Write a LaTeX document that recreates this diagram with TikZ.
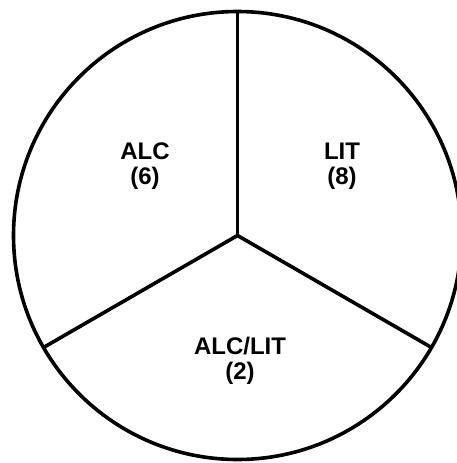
\documentclass[tikz,border=0pt]{standalone}
\usepackage{fontspec}
\setmainfont{Liberation Sans}
\usetikzlibrary{calc}
\begin{document}
\begin{tikzpicture}[x=1pt,y=-1pt,
  pieline/.style={line width=3.6pt,line cap=butt},
  lbl/.style={font=\bfseries\fontsize{24}{25.5}\selectfont,align=center,inner sep=0pt}]
\useasboundingbox (0,0) rectangle (457,463);
\clip (0,0) rectangle (457,463);
\coordinate (c) at (237.5,235.5);
\draw[pieline] (c) circle[radius=224];
\coordinate (top) at ($(c)+(0,-224)$);
\coordinate (ll) at ($(c)+(-194,112)$);
\coordinate (lr) at ($(c)+(194,112)$);
\draw[pieline] (c) -- (top);
\draw[pieline] (c) -- (ll);
\draw[pieline] (c) -- (lr);
\node[lbl] (alc) at (145,166) {ALC\\(6)};
\node[lbl] (lit) at (342,166) {LIT\\(8)};
\node[lbl] (both) at (240,361) {ALC/LIT\\(2)};
\end{tikzpicture}
\end{document}
